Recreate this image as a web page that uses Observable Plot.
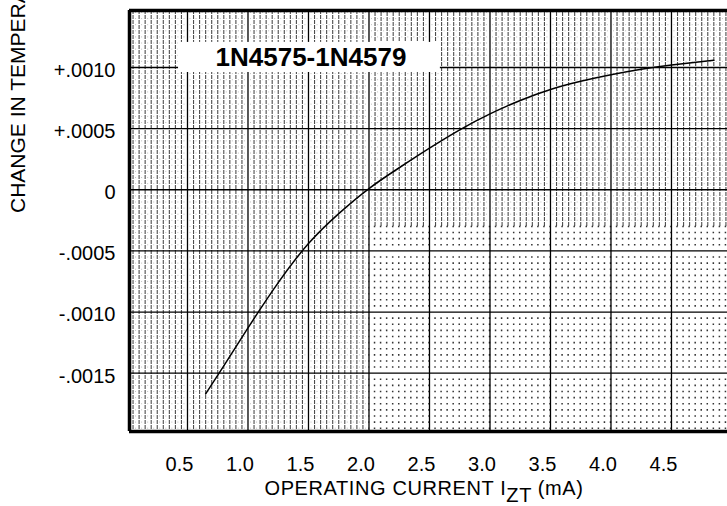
<!DOCTYPE html>
<html><head><meta charset="utf-8">
<script src="https://cdn.jsdelivr.net/npm/d3@7"></script>
<script src="https://cdn.jsdelivr.net/npm/@observablehq/plot@0.6"></script>
<style>
html,body{margin:0;padding:0;background:#fff;overflow:hidden;}
#chart svg{display:block;}
</style></head><body><div id="chart"></div>
<script>
// ---- data ----
const currentMA = [0.65, 0.8, 1.0, 1.25, 1.5, 1.75, 2.0, 2.25, 2.5, 2.75, 3.0, 3.25, 3.5, 3.75, 4.0, 4.25, 4.5, 4.85];
const tempCoeffChange = [-0.00167, -0.00144, -0.00113, -0.00076, -0.00044, -0.000195, 0.00001, 0.00018, 0.00034, 0.00049, 0.00062, 0.00073, 0.00082, 0.000887, 0.00094, 0.000985, 0.00102, 0.00106];
const xTicks = [0.5, 1.0, 1.5, 2.0, 2.5, 3.0, 3.5, 4.0, 4.5];
const xTickLabels = ["0.5", "1.0", "1.5", "2.0", "2.5", "3.0", "3.5", "4.0", "4.5"];
const yTicks = [0.0010, 0.0005, 0, -0.0005, -0.0010, -0.0015];
const yTickLabels = ["+.0010", "+.0005", "0", "-.0005", "-.0010", "-.0015"];
const chartTitle = "1N4575-1N4579";
const xTitleMain = "OPERATING CURRENT I";
const xTitleSub = "ZT";
const xTitleUnit = " (mA)";
const yTitle = "CHANGE IN TEMPERATURE COEFFICIENT (%/°C)";

// ---- build ----
const data = currentMA.map((x, i) => ({x, y: tempCoeffChange[i]}));
const xDomain = [0.0207, 4.963];
const yDomain = [-0.001977, 0.001466];
const xLab = new Map(xTicks.map((t, i) => [t, xTickLabels[i]]));
const yLab = new Map(yTicks.map((t, i) => [t, yTickLabels[i]]));

const minorX = d3.range(1, 100).map(i => i * 0.05).filter(v => Math.abs(v * 2 - Math.round(v * 2)) > 1e-6);
const minorY = d3.range(-39, 30).map(i => i * 0.00005).filter(v => Math.abs(v / 0.0005 - Math.round(v / 0.0005)) > 1e-6);
const split = -0.0003;

const font = "'Liberation Sans', Arial, Helvetica, sans-serif";

const plot = Plot.plot({
  width: 727,
  height: 506,
  marginLeft: 129,
  marginRight: 0,
  marginTop: 10,
  marginBottom: 75,
  style: {fontFamily: font, fontSize: "20px", color: "#000", background: "#fff"},
  x: {domain: xDomain},
  y: {domain: yDomain},
  marks: [
    // faint horizontal dots in the dense area
    Plot.ruleY(minorY.filter(v => v > split), {x1: xDomain[0], x2: xDomain[1], stroke: "#888", strokeWidth: 1, strokeDasharray: "1,5.05", strokeOpacity: 0.5}),
    Plot.ruleY(minorY.filter(v => v <= split), {x1: xDomain[0], x2: 2.0, stroke: "#888", strokeWidth: 1, strokeDasharray: "1,5.05", strokeOpacity: 0.5}),
    // dot grid (lower right): dots fall on the minor vertical positions
    Plot.ruleY(minorY.filter(v => v <= split), {x1: 2.0, x2: xDomain[1], stroke: "#111", strokeWidth: 1.6, strokeDasharray: "1.5,4.55", strokeDashoffset: 0.75, strokeOpacity: 0.85}),
    // dense vertical minor lines (left part)
    Plot.ruleX(minorX.filter(v => v < 2.0), {stroke: "#000", strokeWidth: 1.1, strokeDasharray: "4,1", strokeOpacity: 0.7}),
    // dense vertical minor lines (upper right)
    Plot.ruleX(minorX.filter(v => v > 2.0), {y1: split, y2: yDomain[1], stroke: "#000", strokeWidth: 1.1, strokeDasharray: "4,1", strokeOpacity: 0.7}),
    // major grid
    Plot.ruleX(xTicks, {stroke: "#000", strokeWidth: 1.3}),
    Plot.ruleY(yTicks, {stroke: "#000", strokeWidth: 1.3}),
    // frame: left, top, bottom
    Plot.ruleX([xDomain[0]], {stroke: "#000", strokeWidth: 3.5}),
    Plot.ruleY([yDomain[0], yDomain[1]], {stroke: "#000", strokeWidth: 3.5}),
    // curve
    Plot.line(data, {x: "x", y: "y", stroke: "#000", strokeWidth: 1.5, curve: "natural"}),
    // axes
    Plot.axisX(xTicks, {tickSize: 0, tickPadding: 25, dx: -8, tickFormat: d => xLab.get(d), fontSize: 20, label: null}),
    Plot.axisY(yTicks, {tickSize: 0, tickPadding: 14, dy: 3, tickFormat: d => yLab.get(d), fontSize: 20, label: null})
  ]
});

const svg = d3.select(plot);
const sx = plot.scale("x"), sy = plot.scale("y");

// title box & title
const bx0 = sx.apply(0.426), bx1 = sx.apply(2.59);
const by0 = sy.apply(0.001205), by1 = sy.apply(0.000959);
svg.append("rect").attr("x", bx0).attr("y", by0).attr("width", bx1 - bx0).attr("height", by1 - by0).attr("fill", "#fff");
svg.append("text").attr("x", (bx0 + bx1) / 2 + 2).attr("y", (by0 + by1) / 2 + 9)
  .attr("text-anchor", "middle").attr("font-weight", "bold").attr("font-size", 26)
  .attr("font-family", font).attr("fill", "#000").text(chartTitle);

// x axis title with subscript
const xt = svg.append("text").attr("x", 424).attr("y", 495).attr("text-anchor", "middle")
  .attr("font-size", 20).attr("letter-spacing", 0.6).attr("font-family", font).attr("fill", "#000");
xt.append("tspan").text(xTitleMain);
xt.append("tspan").attr("dy", 7).text(xTitleSub);
xt.append("tspan").attr("dy", -7).text(xTitleUnit);

// y axis title (rotated, runs off the top as in the reference)
svg.append("text").attr("transform", "translate(25,213) rotate(-90)").attr("text-anchor", "start")
  .attr("font-size", 21).attr("font-family", font).attr("fill", "#000").text(yTitle);

document.getElementById("chart").appendChild(plot);
</script></body></html>
